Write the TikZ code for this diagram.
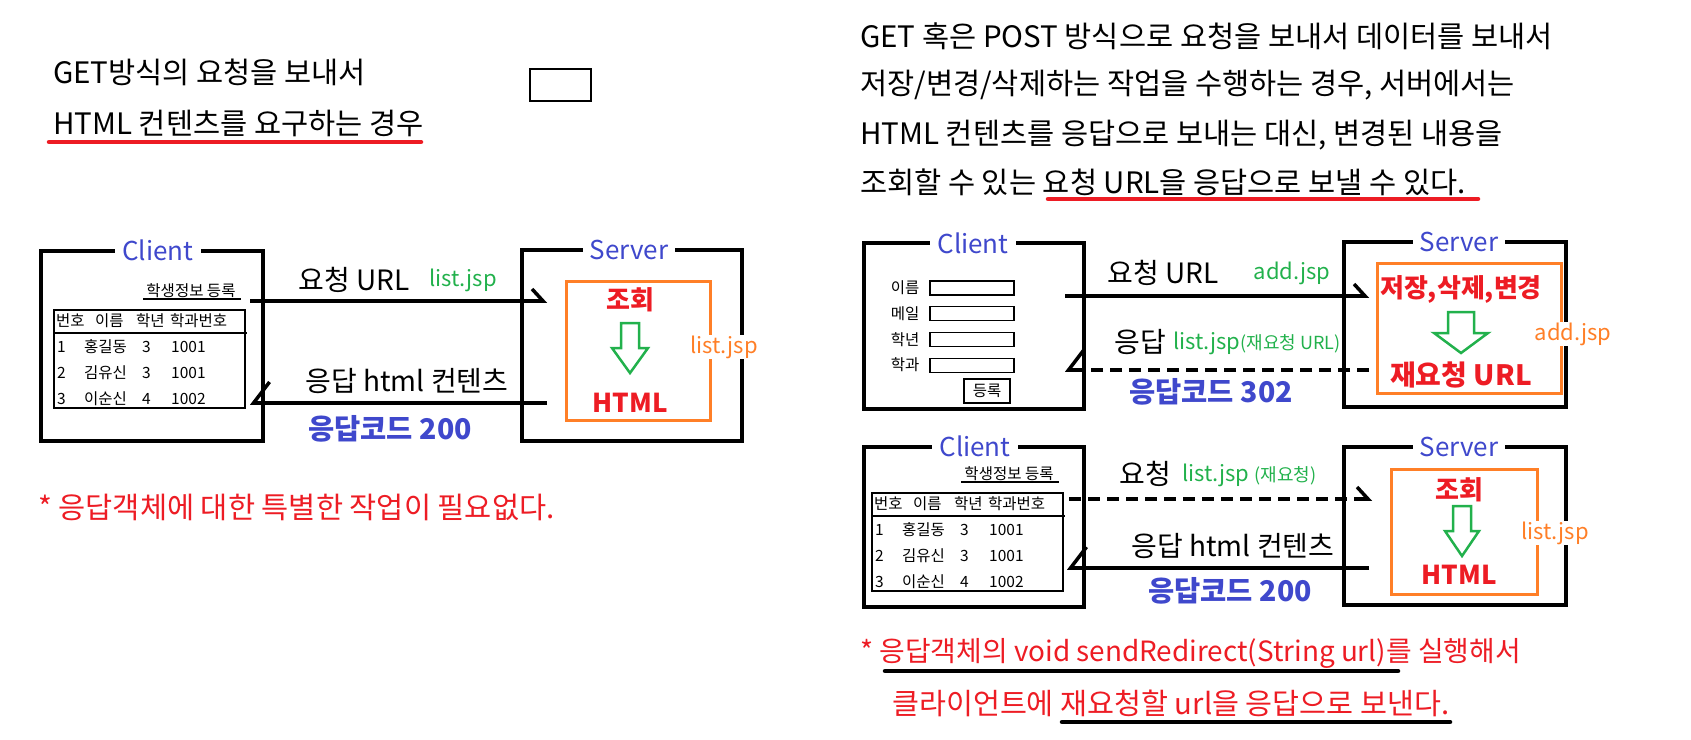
\documentclass[tikz,border=0pt]{standalone}
\usepackage{fontspec}
\setmainfont{Noto Sans CJK KR}
\usetikzlibrary{arrows.meta}
\definecolor{pblue}{HTML}{3F48CC}
\definecolor{pred}{HTML}{ED1C24}
\definecolor{pgreen}{HTML}{22B14C}
\definecolor{porange}{HTML}{FF7F27}
\newcommand{\fsz}[1]{\fontsize{#1}{#1}\selectfont}

\begin{document}
\begin{tikzpicture}[x=1pt,y=-1pt,
  frame/.style={draw,line width=4.5pt,inner sep=0pt},
  obox/.style={draw=porange,line width=3pt,inner sep=0pt},
  tag/.style={fill=white,text=pblue,inner xsep=7pt,inner ysep=1pt,font=\fsz{26}},
  txt/.style={inner sep=0pt,font=\fsz{29.5},anchor=west},
  note/.style={inner sep=0pt,anchor=west,text=pred},
  lbl/.style={inner sep=0pt,font=\fsz{28}},
  jsp/.style={inner sep=0pt,text=pgreen,font=\fsz{22}},
  fname/.style={fill=white,inner sep=1pt,text=porange,font=\fsz{22}},
  code/.style={inner sep=0pt,text=pblue,font=\bfseries\fsz{28.5}},
  work/.style={inner sep=0pt,text=pred,font=\bfseries\fsz{26}},
  cell/.style={inner sep=0pt,anchor=west,font=\fsz{15.5}},
  thin/.style={line width=1.2pt},
  req/.style={line width=3.5pt,-{Straight Barb[left,length=11pt,width=24pt]}},
  resp/.style={line width=3.5pt,-{Straight Barb[right,length=16pt,width=42pt]}},
  dots/.style={dash pattern=on 12pt off 7pt},
  garrow/.style={draw=pgreen,line width=2.5pt,line join=miter},
  uline/.style={line width=4.5pt,line cap=round}
]
\useasboundingbox (0,0) rectangle (1691,739);

\node[txt] (h1a) at (53,72) {GET방식의 요청을 보내서};
\node[txt] (h1b) at (53,123) {HTML 컨텐츠를 요구하는 경우};
\draw[uline,pred] (49,142) -- (421,142);
\node[draw,thin,minimum width=61pt,minimum height=32pt,inner sep=0pt] (blank) at (560.5,85) {};

\node[frame,minimum width=222pt,minimum height=190pt] (cl1) at (152,346) {};
\node[tag] (cl1t) at (158,250) {Client};
\node[frame,minimum width=220pt,minimum height=191pt] (sv1) at (632,345.5) {};
\node[tag] (sv1t) at (629,250) {Server};
\node[obox,minimum width=144pt,minimum height=139pt] (ob1) at (638,350.5) {};
\node[work] (q1) at (630,300) {조회};
\draw[garrow] (621,323) -- (639,323) -- (639,348) -- (648,348) -- (630,373) -- (612,348) -- (621,348) -- cycle;
\node[work] (ht1) at (630,403) {HTML};
\node[fname] (f1) at (724,347) {list.jsp};

\foreach \ox/\oy/\n in {0/0/a,818/183/b}{
  \begin{scope}[shift={(\ox,\oy)}]
    \node[inner sep=0pt,font=\fsz{15.5}] (st\n) at (191,291) {학생정보 등록};
    \draw[thin] (143,299) -- (241,299);
    \node[draw,thin,minimum width=191pt,minimum height=98pt,inner sep=0pt] (tb\n) at (149.5,359) {};
    \draw[thin] (54,333) -- (247,333);
    \foreach \hx/\hname [count=\j] in {56/번호,95/이름,136/학년,170/학과번호}
      \node[cell] (hd\n\j) at (\hx,321) {\hname};
    \foreach \row/\nm/\gr/\cd in {1/홍길동/3/1001,2/김유신/3/1001,3/이순신/4/1002}{
      \node[cell] (no\n\row) at (57,{321+26*\row}) {\row};
      \node[cell] (nm\n\row) at (84,{321+26*\row}) {\nm};
      \node[cell] (gr\n\row) at (142,{321+26*\row}) {\gr};
      \node[cell] (cd\n\row) at (171,{321+26*\row}) {\cd};
    }
  \end{scope}
}

\coordinate (a1s) at (250,301);
\coordinate (a1e) at (547,301);
\draw[req] (a1s) -- (a1e);
\node[lbl] (u1) at (354,280) {요청 URL};
\node[jsp] (j1) at (463,280) {list.jsp};
\coordinate (b1s) at (547,403);
\coordinate (b1e) at (250,403);
\draw[resp] (b1s) -- (b1e);
\node[lbl] (g1) at (407,381) {응답 html 컨텐츠};
\node[code] (c1) at (390,429) {응답코드 200};
\node[txt,text=pred] (n1) at (38,507) {* 응답객체에 대한 특별한 작업이 필요없다.};

\node[txt] (h2a) at (860,36) {GET 혹은 POST 방식으로 요청을 보내서 데이터를 보내서};
\node[txt] (h2b) at (860,85) {저장/변경/삭제하는 작업을 수행하는 경우, 서버에서는};
\node[txt] (h2c) at (860,135) {HTML 컨텐츠를 응답으로 보내는 대신, 변경된 내용을};
\node[txt] (h2d) at (860,182) {조회할 수 있는 요청 URL을 응답으로 보낼 수 있다.};
\draw[uline,pred] (1048,199) -- (1478,199);

\node[frame,minimum width=220pt,minimum height=166pt] (cl2) at (974,326) {};
\node[tag] (cl2t) at (973,243) {Client};
\foreach \lb [count=\k] in {이름,메일,학년,학과}{
  \node[inner sep=0pt,font=\fsz{15.5}] (fl\k) at (905,{262.3+25.7*\k}) {\lb};
  \node[draw,thin,minimum width=84pt,minimum height=14pt,inner sep=0pt] (fb\k) at (972,{262.3+25.7*\k}) {};
}
\node[draw,thin,minimum width=46pt,minimum height=24pt,inner sep=0pt,font=\fsz{15.5}] (reg) at (987,391) {등록};
\node[frame,minimum width=222pt,minimum height=165pt] (sv2) at (1455,324.5) {};
\node[tag] (sv2t) at (1459,242) {Server};
\node[obox,minimum width=184pt,minimum height=130pt] (ob2) at (1469,328) {};
\node[work] (w2) at (1461,289) {저장,삭제,변경};
\draw[garrow] (1448,312) -- (1474,312) -- (1474,333) -- (1488,333) -- (1461,353) -- (1434,333) -- (1448,333) -- cycle;
\node[work,font=\bfseries\fsz{28}] (rq2) at (1461,375) {재요청 URL};
\node[fname] (f2) at (1573,334) {add.jsp};

\coordinate (a2s) at (1065,296);
\coordinate (a2e) at (1369,296);
\draw[req] (a2s) -- (a2e);
\node[lbl] (u2) at (1163,273) {요청 URL};
\node[jsp] (j2) at (1292,273) {add.jsp};
\coordinate (b2s) at (1369,370);
\coordinate (b2e) at (1065,370);
\draw[resp,dots] (b2s) -- (b2e);
\node[lbl,anchor=east] (g2) at (1166,342) {응답};
\node[jsp,anchor=west] (j2b) at (1173,343) {list.jsp{\fsz{18}(재요청 URL)}};
\node[code] (c2) at (1211,392) {응답코드 302};

\node[frame,minimum width=220pt,minimum height=160pt] (cl3) at (974,527) {};
\node[tag] (cl3t) at (975,446) {Client};
\node[frame,minimum width=222pt,minimum height=158pt] (sv3) at (1455,526) {};
\node[tag] (sv3t) at (1459,447) {Server};
\node[obox,minimum width=146pt,minimum height=125pt] (ob3) at (1464,531.5) {};
\node[work] (q3) at (1459,490) {조회};
\draw[garrow] (1453,506) -- (1471,506) -- (1471,531) -- (1479,531) -- (1462,556) -- (1445,531) -- (1453,531) -- cycle;
\node[work] (ht3) at (1459,575) {HTML};
\node[fname] (f3) at (1555,533) {list.jsp};

\coordinate (a3s) at (1069,499);
\coordinate (a3e) at (1372,499);
\draw[req,dots] (a3s) -- (a3e);
\node[lbl,anchor=east] (u3) at (1171,474) {요청};
\node[jsp,anchor=west] (j3) at (1182,475) {list.jsp {\fsz{18}(재요청)}};
\coordinate (b3s) at (1369,568);
\coordinate (b3e) at (1067,568);
\draw[resp] (b3s) -- (b3e);
\node[lbl] (g3) at (1233,546) {응답 html 컨텐츠};
\node[code] (c3) at (1230,591) {응답코드 200};

\node[note,font=\fsz{27.9}] (n2a) at (860,653) {* 응답객체의 void sendRedirect(String url)를 실행해서};
\node[note,font=\fsz{29.3}] (n2b) at (892,703) {클라이언트에 재요청할 url을 응답으로 보낸다.};
\draw[uline] (885,671) -- (1398,671);
\draw[uline] (1062,722) -- (1450,722);
\end{tikzpicture}
\end{document}
